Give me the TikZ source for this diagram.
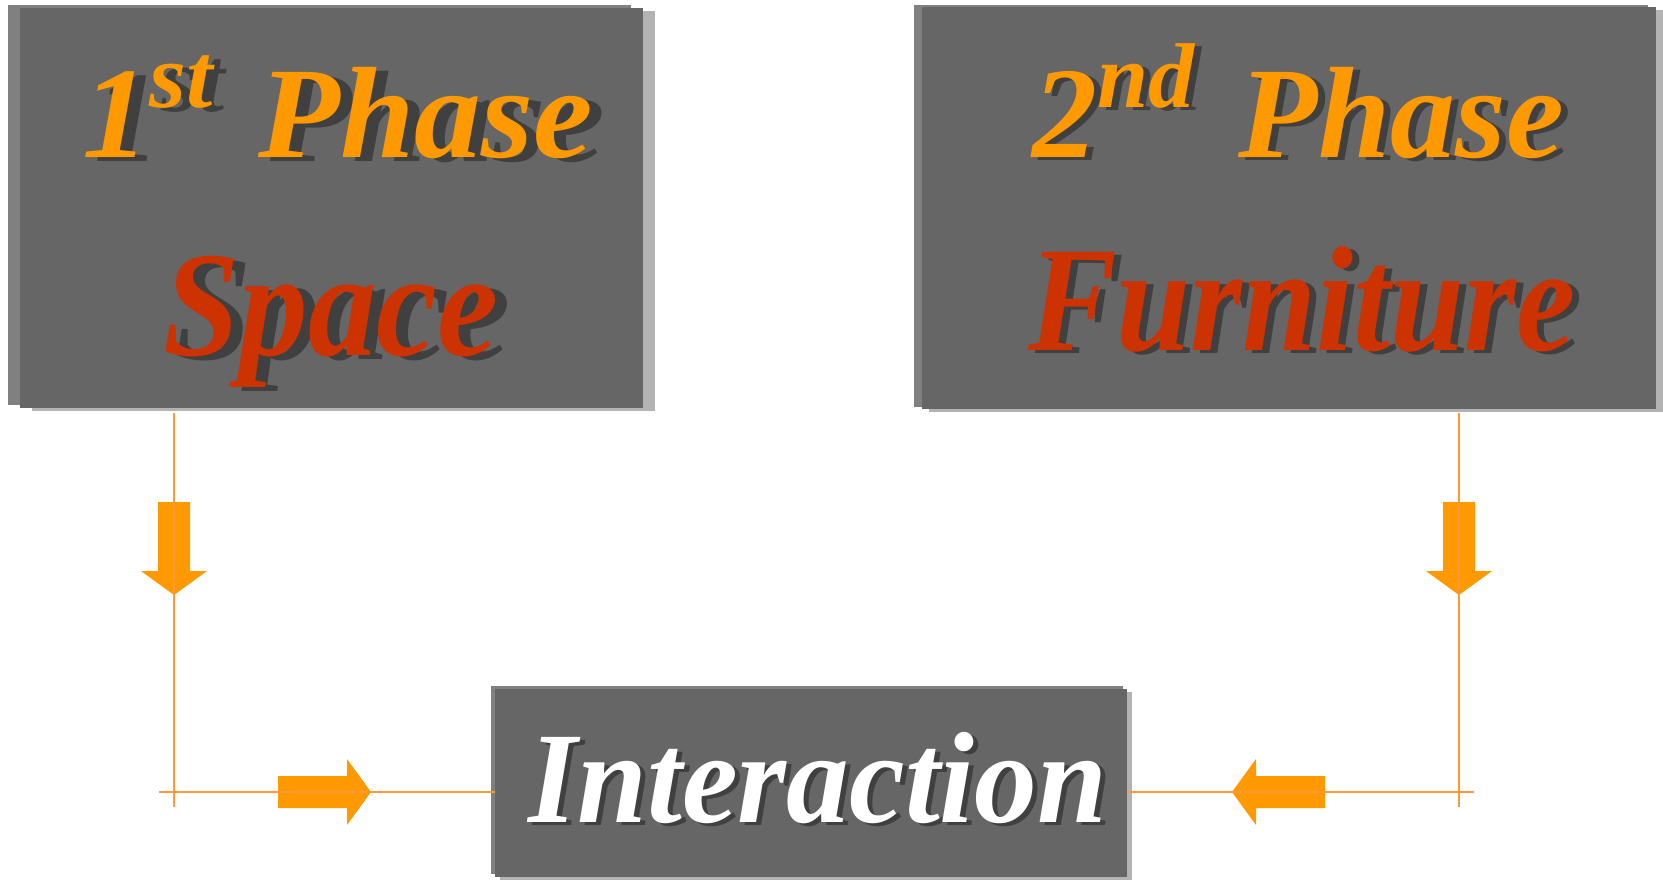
\documentclass[tikz,border=0pt]{standalone}
\usepackage{fontspec}
\usepackage{graphicx}
\usetikzlibrary{shadows}
\newfontfamily\phasefont{Liberation Serif}[BoldItalicFont={* Bold Italic}]
\definecolor{boxfill}{HTML}{666666}
\definecolor{boxlight}{HTML}{808080}
\definecolor{boxshade}{HTML}{B3B3B3}
\definecolor{txtshade}{HTML}{404040}
\definecolor{phaseorange}{HTML}{FF9900}
\definecolor{phasered}{HTML}{CC3300}
\definecolor{linkline}{HTML}{FF9933}
% #1 x-scale, #2 shadow dx, #3 shadow dy, #4 colour, #5 text
\newcommand\dropshadowtext[5]{%
  \rlap{\kern#2pt\raisebox{-#3pt}{\scalebox{#1}[1]{\color{txtshade}#5}}}%
  \scalebox{#1}[1]{\color{#4}#5}}
\newcommand\highscript[1]{\raisebox{50pt}{\fontsize{92}{92}\selectfont #1}}
\tikzset{
  phasebox/.style={rectangle, fill=boxfill, inner sep=0pt},
  bevel/.style n args={4}{
    general shadow={fill=boxlight, shadow xshift=-#1pt, shadow yshift=#2pt},
    general shadow={fill=boxshade, shadow xshift=#3pt, shadow yshift=-#4pt}},
  label text/.style={anchor=base, inner sep=0pt, font=\phasefont\bfseries\itshape},
  link/.style={draw=linkline, line width=2pt},
  blockarrow/.pic={\fill[phaseorange] (0,0) -- (-24,-33) -- (-24,-16) -- (-93,-16)
     -- (-93,16) -- (-24,16) -- (-24,33) -- cycle;}
}
\begin{document}
\begin{tikzpicture}[x=1pt, y=-1pt]
\useasboundingbox (0,0) rectangle (1663,881);
% boxes
\node[phasebox, bevel={12}{3}{12}{3}, minimum width=623pt, minimum height=400pt] (box1) at (331.5,208) {};
\node[phasebox, bevel={8}{2}{7}{3}, minimum width=734pt, minimum height=402pt] (box2) at (1289,208) {};
\node[phasebox, bevel={4}{3}{5}{3}, minimum width=632pt, minimum height=188pt] (box3) at (811,783) {};
% texts
\node[label text, font=\phasefont\bfseries\itshape\fontsize{130}{130}\selectfont] (t1) at (338,157)
  {\dropshadowtext{1.03}{12}{4}{phaseorange}{1\highscript{st}\kern12pt\ Phase}};
\node[label text, font=\phasefont\bfseries\itshape\fontsize{150}{150}\selectfont] (t2) at (331,355)
  {\dropshadowtext{0.915}{12}{4}{phasered}{Space}};
\node[label text, font=\phasefont\bfseries\itshape\fontsize{130}{130}\selectfont] (t3) at (1298,157)
  {\dropshadowtext{1.0}{7}{3}{phaseorange}{2\highscript{nd}\kern12pt\ Phase}};
\node[label text, font=\phasefont\bfseries\itshape\fontsize{150}{150}\selectfont] (t4) at (1302,350)
  {\dropshadowtext{0.888}{7}{3}{phasered}{Furniture}};
\node[label text, font=\phasefont\bfseries\itshape\fontsize{130}{130}\selectfont] (t5) at (818,822)
  {\dropshadowtext{0.965}{5}{3}{white}{Interaction}};
% connector coordinates
\coordinate (l1) at (174,413);
\coordinate (l2) at (174,807);
\coordinate (h1) at (159,792);
\coordinate (r1) at (1459,413);
\coordinate (r2) at (1459,807);
\coordinate (h2) at (1474,792);
% block arrows
\pic[rotate=-90] at (174,595) {blockarrow};
\pic at (371,792) {blockarrow};
\pic[rotate=-90] at (1459,595) {blockarrow};
\pic[rotate=180] at (1232,792) {blockarrow};
% connectors
\draw[link] (l1) -- (l2);
\draw[link] (h1) -- (box3.west |- h1);
\draw[link] (r1) -- (r2);
\draw[link] (h2) -- (box3.east |- h2);
\end{tikzpicture}
\end{document}
